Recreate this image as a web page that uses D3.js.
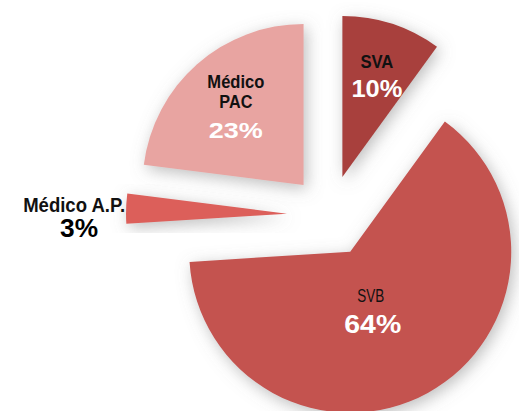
<!DOCTYPE html>
<html>
<head>
<meta charset="utf-8">
<script src="https://cdn.jsdelivr.net/npm/d3@7"></script>
<style>
  html, body { margin: 0; padding: 0; background: #ffffff; }
  svg { display: block; }
</style>
</head>
<body>
<svg id="chart" width="519" height="411"></svg>
<script>
// ---- data ----
const categories = ["SVA", "SVB", "Médico A.P.", "Médico PAC"];
const values = [10, 64, 3, 23];
const percentLabels = ["10%", "64%", "3%", "23%"];
const colors = ["#a8403d", "#c4524f", "#dc5f5a", "#e8a4a1"];

// ---- layout ----
const W = 519, H = 411;
const cx = 330, cy = 215, R = 161;
const explode = [40, 42, 43, 40];

const svg = d3.select("#chart");
const defs = svg.append("defs");
const f = defs.append("filter").attr("id", "shadow")
  .attr("x", "-30%").attr("y", "-30%").attr("width", "160%").attr("height", "160%");
f.append("feDropShadow").attr("dx", 3).attr("dy", 4).attr("stdDeviation", 8)
  .attr("flood-color", "#7a7a7a").attr("flood-opacity", 0.5);

const pie = d3.pie().sort(null).value(d => d)(values);
const arc = d3.arc().innerRadius(0).outerRadius(R);

const g = svg.append("g").attr("transform", `translate(${cx},${cy})`);

const slices = g.selectAll("g.slice").data(pie).join("g")
  .attr("class", "slice")
  .attr("transform", (d, i) => {
    const a = (d.startAngle + d.endAngle) / 2;
    return `translate(${explode[i] * Math.sin(a)},${-explode[i] * Math.cos(a)})`;
  });

slices.append("path")
  .attr("d", arc)
  .attr("fill", (d, i) => colors[i])
  .attr("filter", "url(#shadow)");

// ---- labels ----
const nameFont = "'Liberation Sans Narrow','Arial Narrow','Liberation Sans',Arial,sans-serif";
const pctFont = "'Liberation Sans',Arial,sans-serif";

function polar(d, i, r, da) {
  const a = (d.startAngle + d.endAngle) / 2 + (da || 0);
  return [ (explode[i] + r) * Math.sin(a), -(explode[i] + r) * Math.cos(a) ];
}

const labelSpec = [
  { r: 103, da: 0.02, lines: ["SVA"], nameSize: 18, nameW: [33], nameWeight: "bold", pctSize: 24, pctW: 51, pctColor: "#ffffff", dy: [-12], pdy: 17, px: 0 },
  { r: 62, da: 0.10, lines: ["SVB"], nameSize: 19, nameW: [27], nameWeight: "normal", pctSize: 26, pctW: 57, pctColor: "#ffffff", dy: [-9], pdy: 22, px: 2 },
  { r: 0, da: 0, lines: ["Médico A.P."], nameSize: 20, nameW: [102], nameWeight: "bold", pctSize: 25, pctW: 38, pctColor: "#000000", dy: [0], pdy: 25, px: 5 },
  { r: 105, da: 0.016, lines: ["Médico", "PAC"], nameSize: 18, nameW: [57, 33], nameWeight: "bold", pctSize: 22, pctW: 54, pctColor: "#ffffff", dy: [-17, 3], pdy: 33, px: 0 }
];

pie.forEach((d, i) => {
  const s = labelSpec[i];
  let x, y;
  if (i === 2) {
    const tip = polar(d, i, R + 52, 0);
    x = cx + tip[0]; y = cy + tip[1] + 5;
  } else {
    const p = polar(d, i, s.r, s.da);
    x = cx + p[0]; y = cy + p[1];
  }
  s.lines.forEach((ln, k) => {
    svg.append("text")
      .attr("x", x).attr("y", y + s.dy[k])
      .attr("text-anchor", "middle")
      .attr("font-family", nameFont)
      .attr("font-weight", s.nameWeight)
      .attr("font-size", s.nameSize)
      .attr("textLength", s.nameW[k])
      .attr("lengthAdjust", "spacingAndGlyphs")
      .attr("fill", "#111")
      .text(ln);
  });
  svg.append("text")
    .attr("x", x + s.px).attr("y", y + s.pdy)
    .attr("text-anchor", "middle")
    .attr("font-family", pctFont)
    .attr("font-weight", "bold")
    .attr("font-size", s.pctSize)
    .attr("textLength", s.pctW)
    .attr("lengthAdjust", "spacingAndGlyphs")
    .attr("fill", s.pctColor)
    .text(percentLabels[i]);
});
</script>
</body>
</html>
